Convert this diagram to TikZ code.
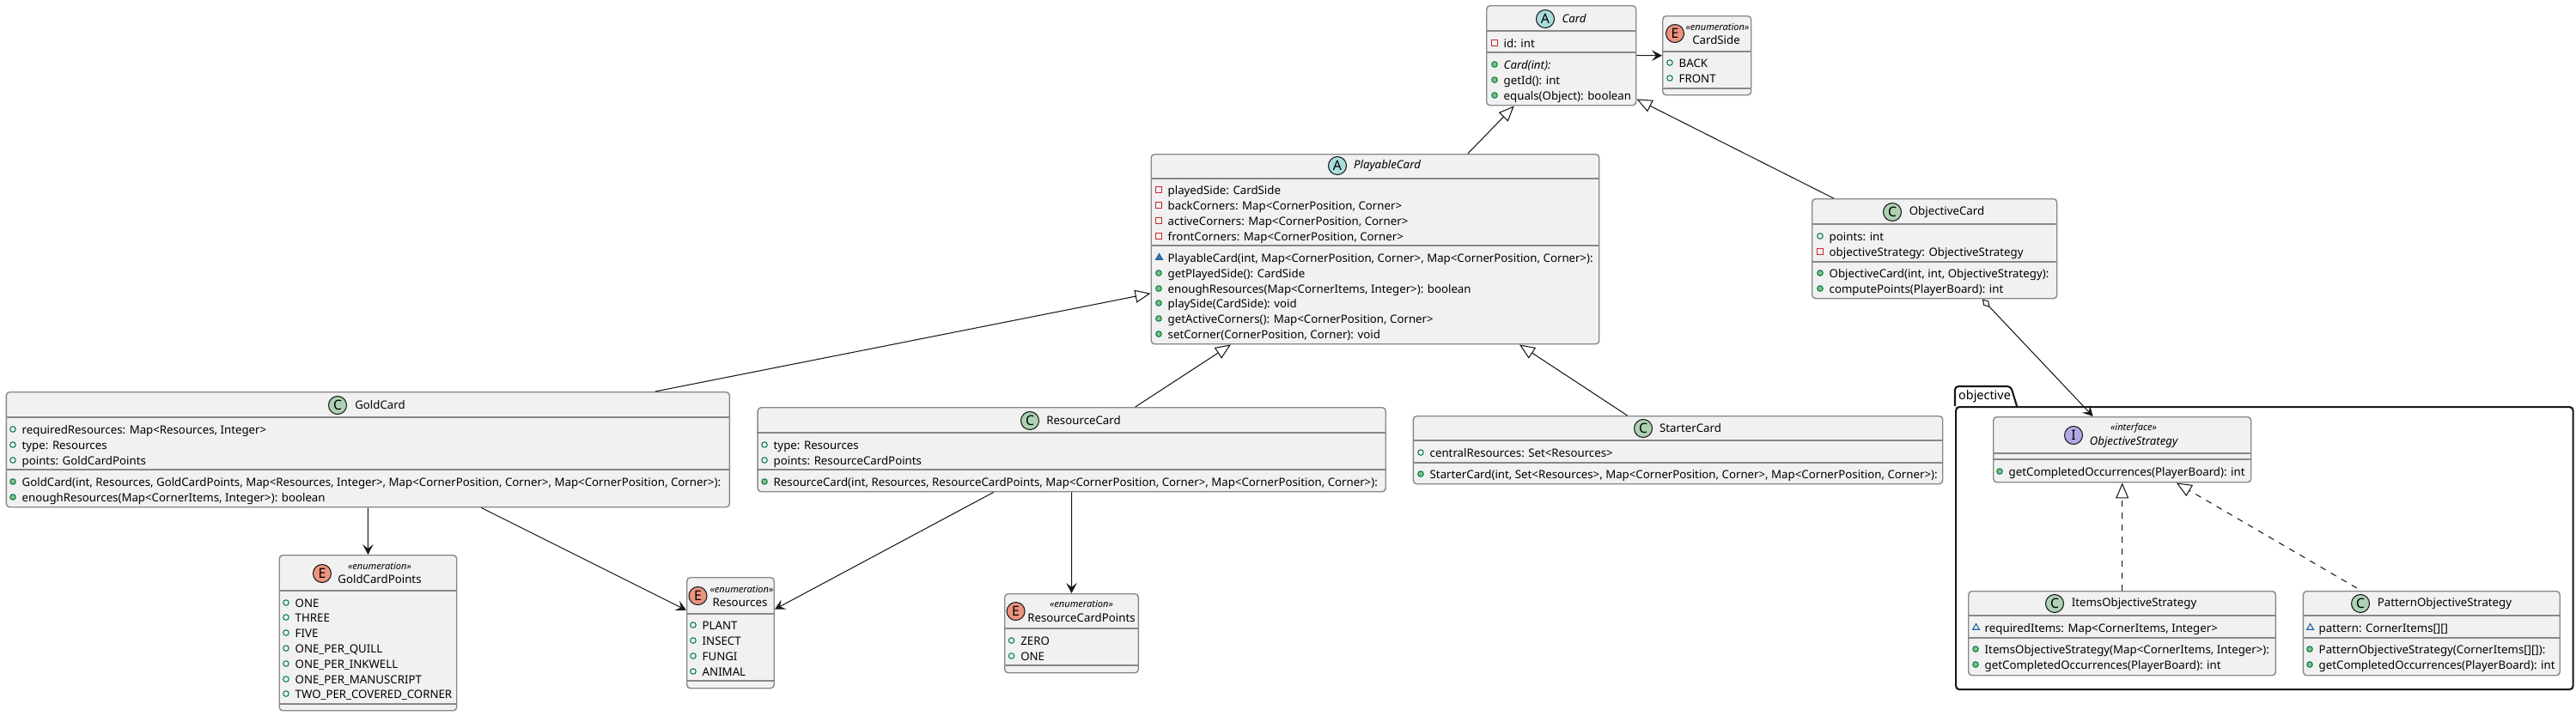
\documentclass[tikz,border=0pt]{standalone}
\usepackage{fontspec}
\setmainfont{Noto Sans}
\usetikzlibrary{arrows.meta,calc,shapes.geometric}
\definecolor{ink}{HTML}{181818}
\definecolor{frame}{HTML}{888888}
\definecolor{soft}{HTML}{F1F1F1}
\definecolor{cabstract}{HTML}{A9DCDF}
\definecolor{cclass}{HTML}{ADD1B2}
\definecolor{cenum}{HTML}{EB937F}
\definecolor{ciface}{HTML}{B4A7E5}
\definecolor{vred}{HTML}{C82930}
\definecolor{vgreen}{HTML}{038048}
\definecolor{lgreen}{HTML}{84BE84}
\definecolor{vblue}{HTML}{1963A0}
\definecolor{lblue}{HTML}{4177AF}
\newcommand{\memfont}{\fontsize{3.77pt}{4.4pt}\selectfont}
\newcommand{\stfont}{\fontsize{3.15pt}{3.8pt}\selectfont\itshape}
\newcommand{\tabfont}{\fontsize{4.1pt}{5pt}\selectfont\bfseries}
\newcommand{\badgefont}{\fontsize{4.5pt}{5pt}\selectfont}

\begin{document}
\begin{tikzpicture}[>={Stealth[length=0.12cm,width=0.125cm,inset=0.05cm]},
  cls/.style={draw=frame, fill=soft, rounded corners=0.04cm, line width=0.4pt, anchor=north west, inner sep=0pt},
  sep/.style={draw=frame, line width=0.4pt},
  badge/.style={circle, draw=ink, line width=0.3pt, inner sep=0pt, minimum size=0.21cm, font=\badgefont},
  ttl/.style={inner sep=0pt, font=\memfont},
  stereo/.style={inner sep=0pt, font=\stfont},
  mem/.style={anchor=west, inner sep=0pt, text height=0.10cm, text depth=0pt, font=\memfont},
  vis/.style={inner sep=0pt, text height=0pt, text depth=0pt, line width=0.3pt, label distance=0.0625cm},
  pvt/.style={mem, label={[vis, rectangle, draw=vred, minimum size=0.065cm]left:{}}},
  pubf/.style={mem, label={[vis, circle, draw=vgreen, minimum size=0.065cm]left:{}}},
  pubm/.style={mem, label={[vis, circle, draw=vgreen, fill=lgreen, minimum size=0.065cm]left:{}}},
  pkgf/.style={mem, label={[vis, regular polygon, regular polygon sides=3, draw=vblue, minimum size=0.09cm]left:{}}},
  pkgm/.style={mem, label={[vis, regular polygon, regular polygon sides=3, draw=vblue, fill=lblue, minimum size=0.09cm]left:{}}},
  assoc/.style={->, line width=0.3pt, draw=ink},
  extends/.style={-{Triangle[open,fill=white,length=0.18cm,width=0.15cm]}, line width=0.3pt, draw=ink},
  realizes/.style={extends, dash pattern=on 0.07cm off 0.07cm},
  pkg/.style={draw=ink, rounded corners=0.04cm, line width=0.6pt, inner sep=0pt}]

\useasboundingbox (0,0) rectangle (29.99,-8.33);

% ---------------- package frame
\node[pkg, anchor=north west, minimum width=7.185cm, minimum height=3.29cm] (objective) at (22.76,-4.73) {};
\draw[pkg] (objective.north west) -- ++(0,0.23) -- ++(0.65,0) -- ++(0.07,-0.23);
\node[ttl, font=\tabfont] (objectivetab) at (23.105,-4.62) {objective};

% ---------------- Card
\node[cls, minimum width=1.74cm, minimum height=1.16cm] (card) at (17.30,-0.06) {};
\draw[sep] ($(card.north west)+(0,-0.30)$) -- ($(card.north east)+(0,-0.30)$);
\draw[sep] ($(card.north west)+(0,-0.55)$) -- ($(card.north east)+(0,-0.55)$);
\node[badge, fill=cabstract] (cardicon) at (17.99,-0.22) {A};
\node[ttl] (cardname) at (18.325,-0.22) {\itshape Card};
\node[pvt] (card1) at (17.50,-0.50) {id: int};
\node[pubm] (card2) at (17.50,-0.75) {\itshape Card(int):};
\node[pubm] (card3) at (17.50,-0.93) {getId(): int};
\node[pubm] (card4) at (17.50,-1.11) {equals(Object): boolean};

% ---------------- CardSide
\node[cls, minimum width=1.03cm, minimum height=0.92cm] (cardside) at (19.35,-0.18) {};
\draw[sep] ($(cardside.north west)+(0,-0.42)$) -- ($(cardside.north east)+(0,-0.42)$);
\draw[sep] ($(cardside.north west)+(0,-0.85)$) -- ($(cardside.north east)+(0,-0.85)$);
\node[badge, fill=cenum] (cardsideicon) at (19.50,-0.39) {E};
\node[stereo] (cardsidest) at (19.995,-0.31) {«enumeration»};
\node[ttl] (cardsidename) at (19.98,-0.47) {CardSide};
\node[pubf] (cardside1) at (19.54,-0.73) {BACK};
\node[pubf] (cardside2) at (19.54,-0.91) {FRONT};

% ---------------- PlayableCard
\node[cls, minimum width=5.215cm, minimum height=2.21cm] (playable) at (13.395,-1.79) {};
\draw[sep] ($(playable.north west)+(0,-0.29)$) -- ($(playable.north east)+(0,-0.29)$);
\draw[sep] ($(playable.north west)+(0,-1.07)$) -- ($(playable.north east)+(0,-1.07)$);
\node[badge, fill=cabstract] (playableicon) at (15.57,-1.93) {A};
\node[ttl] (playablename) at (16.15,-1.93) {\itshape PlayableCard};
\node[pvt] (playable1) at (13.59,-2.21) {playedSide: CardSide};
\node[pvt] (playable2) at (13.59,-2.39) {backCorners: Map<CornerPosition, Corner>};
\node[pvt] (playable3) at (13.59,-2.57) {activeCorners: Map<CornerPosition, Corner>};
\node[pvt] (playable4) at (13.59,-2.75) {frontCorners: Map<CornerPosition, Corner>};
\node[pkgm] (playable5) at (13.59,-3.00) {PlayableCard(int, Map<CornerPosition, Corner>, Map<CornerPosition, Corner>):};
\node[pubm] (playable6) at (13.59,-3.18) {getPlayedSide(): CardSide};
\node[pubm] (playable7) at (13.59,-3.36) {enoughResources(Map<CornerItems, Integer>): boolean};
\node[pubm] (playable8) at (13.59,-3.53) {playSide(CardSide): void};
\node[pubm] (playable9) at (13.59,-3.71) {getActiveCorners(): Map<CornerPosition, Corner>};
\node[pubm] (playable10) at (13.59,-3.89) {setCorner(CornerPosition, Corner): void};

% ---------------- GoldCard
\node[cls, minimum width=8.42cm, minimum height=1.34cm] (gold) at (0.066,-4.56) {};
\draw[sep] ($(gold.north west)+(0,-0.30)$) -- ($(gold.north east)+(0,-0.30)$);
\draw[sep] ($(gold.north west)+(0,-0.91)$) -- ($(gold.north east)+(0,-0.91)$);
\node[badge, fill=cclass] (goldicon) at (3.93,-4.72) {C};
\node[ttl] (goldname) at (4.425,-4.72) {GoldCard};
\node[pubf] (gold1) at (0.25,-5.00) {requiredResources: Map<Resources, Integer>};
\node[pubf] (gold2) at (0.25,-5.18) {type: Resources};
\node[pubf] (gold3) at (0.25,-5.36) {points: GoldCardPoints};
\node[pubm] (gold4) at (0.25,-5.61) {GoldCard(int, Resources, GoldCardPoints, Map<Resources, Integer>, Map<CornerPosition, Corner>, Map<CornerPosition, Corner>):};
\node[pubm] (gold5) at (0.25,-5.79) {enoughResources(Map<CornerItems, Integer>): boolean};

% ---------------- ResourceCard
\node[cls, minimum width=7.311cm, minimum height=0.98cm] (resource) at (8.814,-4.74) {};
\draw[sep] ($(resource.north west)+(0,-0.30)$) -- ($(resource.north east)+(0,-0.30)$);
\draw[sep] ($(resource.north west)+(0,-0.73)$) -- ($(resource.north east)+(0,-0.73)$);
\node[badge, fill=cclass] (resourceicon) at (11.99,-4.90) {C};
\node[ttl] (resourcename) at (12.615,-4.90) {ResourceCard};
\node[pubf] (resource1) at (9.00,-5.18) {type: Resources};
\node[pubf] (resource2) at (9.00,-5.36) {points: ResourceCardPoints};
\node[pubm] (resource3) at (9.00,-5.61) {ResourceCard(int, Resources, ResourceCardPoints, Map<CornerPosition, Corner>, Map<CornerPosition, Corner>):};

% ---------------- StarterCard
\node[cls, minimum width=6.163cm, minimum height=0.79cm] (starter) at (16.447,-4.84) {};
\draw[sep] ($(starter.north west)+(0,-0.29)$) -- ($(starter.north east)+(0,-0.29)$);
\draw[sep] ($(starter.north west)+(0,-0.55)$) -- ($(starter.north east)+(0,-0.55)$);
\node[badge, fill=cclass] (startericon) at (19.13,-4.99) {C};
\node[ttl] (startername) at (19.68,-4.99) {StarterCard};
\node[pubf] (starter1) at (16.64,-5.27) {centralResources: Set<Resources>};
\node[pubm] (starter2) at (16.64,-5.52) {StarterCard(int, Set<Resources>, Map<CornerPosition, Corner>, Map<CornerPosition, Corner>):};

% ---------------- ObjectiveCard
\node[cls, minimum width=2.85cm, minimum height=1.16cm] (objcard) at (21.09,-2.31) {};
\draw[sep] ($(objcard.north west)+(0,-0.30)$) -- ($(objcard.north east)+(0,-0.30)$);
\draw[sep] ($(objcard.north west)+(0,-0.74)$) -- ($(objcard.north east)+(0,-0.74)$);
\node[badge, fill=cclass] (objcardicon) at (22.03,-2.47) {C};
\node[ttl] (objcardname) at (22.665,-2.47) {ObjectiveCard};
\node[pubf] (objcard1) at (21.29,-2.75) {points: int};
\node[pvt] (objcard2) at (21.29,-2.93) {objectiveStrategy: ObjectiveStrategy};
\node[pubm] (objcard3) at (21.29,-3.18) {ObjectiveCard(int, int, ObjectiveStrategy):};
\node[pubm] (objcard4) at (21.29,-3.36) {computePoints(PlayerBoard): int};

% ---------------- strategies inside the package
\node[cls, minimum width=3.00cm, minimum height=0.76cm] (strategy) at (23.20,-4.85) {};
\draw[sep] ($(strategy.north west)+(0,-0.43)$) -- ($(strategy.north east)+(0,-0.43)$);
\draw[sep] ($(strategy.north west)+(0,-0.50)$) -- ($(strategy.north east)+(0,-0.50)$);
\node[badge, fill=ciface] (strategyicon) at (24.14,-5.07) {I};
\node[stereo] (strategyst) at (24.84,-4.99) {«interface»};
\node[ttl] (strategyname) at (24.84,-5.15) {\itshape ObjectiveStrategy};
\node[pubm] (strategy1) at (23.38,-5.49) {getCompletedOccurrences(PlayerBoard): int};

\node[cls, minimum width=3.576cm, minimum height=0.98cm] (items) at (22.91,-6.88) {};
\draw[sep] ($(items.north west)+(0,-0.29)$) -- ($(items.north east)+(0,-0.29)$);
\draw[sep] ($(items.north west)+(0,-0.55)$) -- ($(items.north east)+(0,-0.55)$);
\node[badge, fill=cclass] (itemsicon) at (23.92,-7.03) {C};
\node[ttl] (itemsname) at (24.845,-7.03) {ItemsObjectiveStrategy};
\node[pkgf] (items1) at (23.10,-7.31) {requiredItems: Map<CornerItems, Integer>};
\node[pubm] (items2) at (23.10,-7.56) {ItemsObjectiveStrategy(Map<CornerItems, Integer>):};
\node[pubm] (items3) at (23.10,-7.74) {getCompletedOccurrences(PlayerBoard): int};

\node[cls, minimum width=2.988cm, minimum height=0.98cm] (pattern) at (26.807,-6.88) {};
\draw[sep] ($(pattern.north west)+(0,-0.29)$) -- ($(pattern.north east)+(0,-0.29)$);
\draw[sep] ($(pattern.north west)+(0,-0.55)$) -- ($(pattern.north east)+(0,-0.55)$);
\node[badge, fill=cclass] (patternicon) at (27.48,-7.03) {C};
\node[ttl] (patternname) at (28.46,-7.03) {PatternObjectiveStrategy};
\node[pkgf] (pattern1) at (26.99,-7.31) {pattern: CornerItems[][]};
\node[pubm] (pattern2) at (26.99,-7.56) {PatternObjectiveStrategy(CornerItems[][]):};
\node[pubm] (pattern3) at (26.99,-7.74) {getCompletedOccurrences(PlayerBoard): int};

% ---------------- enumerations below
\node[cls, minimum width=2.065cm, minimum height=1.81cm] (goldpts) at (3.245,-6.46) {};
\draw[sep] ($(goldpts.north west)+(0,-0.42)$) -- ($(goldpts.north east)+(0,-0.42)$);
\draw[sep] ($(goldpts.north west)+(0,-1.74)$) -- ($(goldpts.north east)+(0,-1.74)$);
\node[badge, fill=cenum] (goldptsicon) at (3.75,-6.68) {E};
\node[stereo] (goldptsst) at (4.42,-6.59) {«enumeration»};
\node[ttl] (goldptsname) at (4.42,-6.75) {GoldCardPoints};
\node[pubf] (goldpts1) at (3.43,-7.02) {ONE};
\node[pubf] (goldpts2) at (3.43,-7.19) {THREE};
\node[pubf] (goldpts3) at (3.43,-7.37) {FIVE};
\node[pubf] (goldpts4) at (3.43,-7.55) {ONE\_PER\_QUILL};
\node[pubf] (goldpts5) at (3.43,-7.73) {ONE\_PER\_INKWELL};
\node[pubf] (goldpts6) at (3.43,-7.91) {ONE\_PER\_MANUSCRIPT};
\node[pubf] (goldpts7) at (3.43,-8.08) {TWO\_PER\_COVERED\_CORNER};

\node[cls, minimum width=1.015cm, minimum height=1.29cm] (resources) at (7.99,-6.72) {};
\draw[sep] ($(resources.north west)+(0,-0.43)$) -- ($(resources.north east)+(0,-0.43)$);
\draw[sep] ($(resources.north west)+(0,-1.21)$) -- ($(resources.north east)+(0,-1.21)$);
\node[badge, fill=cenum] (resourcesicon) at (8.125,-6.94) {E};
\node[stereo] (resourcesst) at (8.635,-6.86) {«enumeration»};
\node[ttl] (resourcesname) at (8.615,-7.02) {Resources};
\node[pubf] (resources1) at (8.17,-7.28) {PLANT};
\node[pubf] (resources2) at (8.17,-7.46) {INSECT};
\node[pubf] (resources3) at (8.17,-7.64) {FUNGI};
\node[pubf] (resources4) at (8.17,-7.82) {ANIMAL};

\node[cls, minimum width=1.556cm, minimum height=0.92cm] (respts) at (11.69,-6.91) {};
\draw[sep] ($(respts.north west)+(0,-0.41)$) -- ($(respts.north east)+(0,-0.41)$);
\draw[sep] ($(respts.north west)+(0,-0.84)$) -- ($(respts.north east)+(0,-0.84)$);
\node[badge, fill=cenum] (resptsicon) at (11.826,-7.12) {E};
\node[stereo] (resptsst) at (12.59,-7.03) {«enumeration»};
\node[ttl] (resptsname) at (12.59,-7.20) {ResourceCardPoints};
\node[pubf] (respts1) at (11.876,-7.46) {ZERO};
\node[pubf] (respts2) at (11.876,-7.64) {ONE};

% ---------------- connectors
\draw[assoc] (card) -- (cardside);
\draw[extends] ($(playable.north)+(1.078,0)$) -- ($(card.south)+(-0.55,0)$);
\draw[extends] ($(objcard.north)+(-1.175,0)$) -- ($(card.south east)+(0,0.08)$);
\draw[extends] ($(gold.north)+(3.344,0)$) -- ($(playable.west)+(0,-0.515)$);
\draw[extends] ($(resource.north)+(0.74,0)$) -- ($(playable.south)+(-1.68,0)$);
\draw[extends] ($(starter.north)+(-0.59,0)$) -- ($(playable.south)+(1.68,0)$);
\draw[assoc] (gold.south) -- (goldpts.north);
\draw[assoc] ($(gold.south)+(1.32,0)$) -- ($(resources.west)+(0,0.265)$);
\draw[assoc] ($(resource.south)+(-0.91,0)$) -- ($(resources.east)+(0,0.275)$);
\draw[assoc] (resource.south) -- (respts.north);
\draw[assoc, {Diamond[open,fill=white,length=0.13cm,width=0.08cm]}->] ($(objcard.south)+(0.555,0)$) -- ($(strategy.north)+(-0.34,0)$);
\draw[realizes] (items.north) -- (strategy.south);
\draw[realizes] ($(pattern.north)+(-0.87,0.03)$) -- ($(strategy.south)+(0.63,0)$);
\end{tikzpicture}
\end{document}
